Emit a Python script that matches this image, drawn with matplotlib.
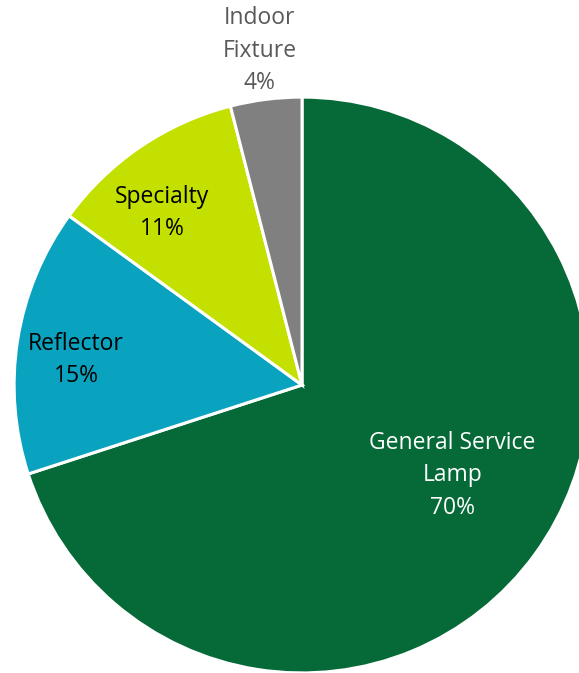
import numpy as np
import matplotlib.pyplot as plt

# lamp category shares (%)
categories = ["General Service\nLamp", "Reflector", "Specialty", "Indoor\nFixture"]
shares = [70, 15, 11, 4]

colors = ["#056A37", "#0AA3BF", "#C4E000", "#808080"]
text_colors = ["white", "black", "black", "#595959"]
# (radius, angle offset in degrees) for each label, relative to wedge middle
label_place = [(0.61, 5), (0.79, 2.7), (0.77, 5), (1.17, 0)]

plt.rcParams["font.family"] = ["Open Sans", "DejaVu Sans"]

fig = plt.figure(figsize=(5.79, 6.73), dpi=100)
ax = fig.add_axes([0, 0, 1, 1])

wedges, _ = ax.pie(
    shares,
    colors=colors,
    startangle=90,
    counterclock=False,
    radius=1.0,
    wedgeprops=dict(edgecolor="white", linewidth=2.2),
)

for w, name, val, tc, (r, da) in zip(wedges, categories, shares, text_colors, label_place):
    mid = np.deg2rad((w.theta1 + w.theta2) / 2 + da)
    ax.text(
        r * np.cos(mid), r * np.sin(mid),
        f"{name}\n{val}%",
        ha="center", va="center",
        fontsize=16.5, color=tc, linespacing=1.47,
    )

# frame the pie as cropped on the right and bottom
ax.set_xlim(-1.049, 0.962)
ax.set_ylim(-1.0, 1.337)
ax.set_aspect("equal")
ax.axis("off")

plt.savefig("out.png", dpi=100)
plt.close()
